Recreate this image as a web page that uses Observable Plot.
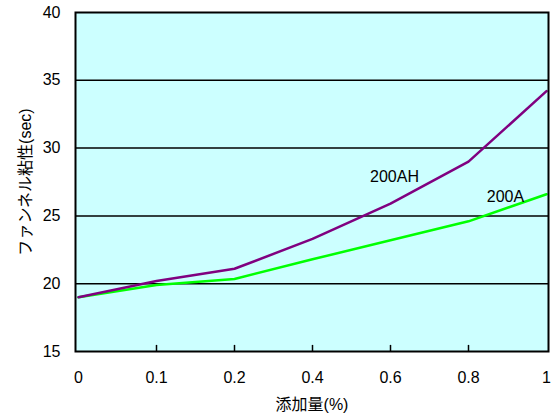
<!DOCTYPE html>
<html>
<head>
<meta charset="utf-8">
<script src="https://cdn.jsdelivr.net/npm/d3@7"></script>
<script src="https://cdn.jsdelivr.net/npm/@observablehq/plot@0.6"></script>
<style>
  html, body { margin: 0; padding: 0; background: #fff; }
  svg { font-family: "Liberation Sans", "Noto Sans CJK JP", sans-serif; }
</style>
</head>
<body>
<div id="chart"></div>
<script>
const categories = ["0", "0.1", "0.2", "0.4", "0.6", "0.8", "1"];
const series200AH = [19.0, 20.2, 21.1, 23.3, 25.9, 29.0, 34.2];
const series200A = [19.0, 19.9, 20.35, 21.8, 23.2, 24.6, 26.6];
const yTicks = [15, 20, 25, 30, 35, 40];
const gridValues = [20, 25, 30, 35];
const innerTicks = ["0.1", "0.2", "0.4", "0.6", "0.8"];
const label200AH = {text: "200AH", x: "0.6", y: 27.9};
const label200A = {text: "200A", x: "0.8", y: 26.4};

const data = [
  ...categories.map((c, i) => ({x: c, y: series200AH[i], s: "200AH"})),
  ...categories.map((c, i) => ({x: c, y: series200A[i], s: "200A"}))
];

const chart = Plot.plot({
  width: 557,
  height: 414,
  marginLeft: 75,
  marginRight: 9,
  marginTop: 12,
  marginBottom: 63,
  style: {fontSize: "16px", background: "white", color: "black"},
  x: {type: "point", domain: categories, padding: 0},
  y: {domain: [15, 40]},
  marks: [
    Plot.frame({fill: "#ccffff", stroke: null}),
    Plot.ruleY(gridValues, {stroke: "black", strokeWidth: 1.5}),
    Plot.ruleX(innerTicks, {x: d => d, y1: 15, y2: 15.45, stroke: "black", strokeWidth: 1.5}),
    Plot.line(data.filter(d => d.s === "200A"), {x: "x", y: "y", stroke: "#00ff00", strokeWidth: 2.5}),
    Plot.line(data.filter(d => d.s === "200AH"), {x: "x", y: "y", stroke: "#800080", strokeWidth: 2.5}),
    Plot.text([label200AH], {x: "x", y: "y", text: "text", dx: 4, fontSize: 16, fill: "black"}),
    Plot.text([label200A], {x: "x", y: "y", text: "text", dx: 37, fontSize: 16, fill: "black"}),
    Plot.axisX({tickSize: 0, tickPadding: 20, fontSize: 16, label: "添加量(%)", labelAnchor: "center", labelArrow: "none", labelOffset: 58}),
    Plot.axisY(yTicks, {tickSize: 0, tickPadding: 15, fontSize: 16, label: "ファンネル粘性(sec)", labelAnchor: "center", labelArrow: "none", labelOffset: 56}),
    Plot.frame({stroke: "black", strokeWidth: 2})
  ]
});
document.getElementById("chart").appendChild(chart);
</script>
</body>
</html>
